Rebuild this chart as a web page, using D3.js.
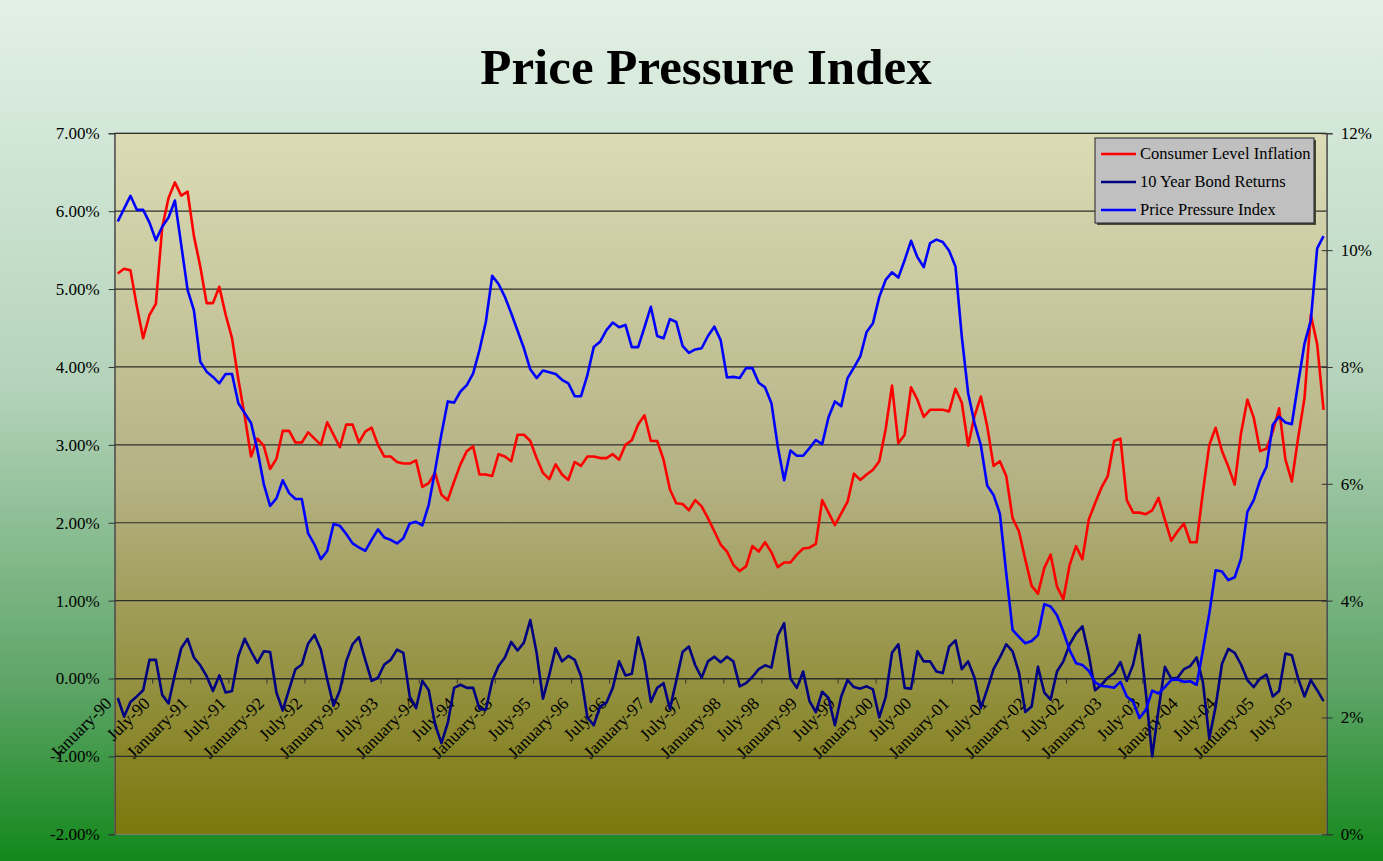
<!DOCTYPE html>
<html>
<head>
<meta charset="utf-8">
<script src="https://cdn.jsdelivr.net/npm/d3@7"></script>
<style>
  body { margin: 0; overflow: hidden; }
  text { font-family: "Liberation Serif", "Times New Roman", serif; }
</style>
</head>
<body>
<script>
// months Jan-1990 .. Nov-2005
const months = d3.timeMonth.range(new Date(1990, 0, 1), new Date(2005, 11, 1))
const categories = months.map(d3.timeFormat("%B-%y"))

// Consumer Level Inflation (%), left axis
const inflation = [
  5.20, 5.26, 5.24, 4.78, 4.37, 4.67, 4.81, 5.79, 6.17, 6.37,
  6.20, 6.25, 5.68, 5.29, 4.82, 4.82, 5.03, 4.67, 4.37, 3.84,
  3.37, 2.85, 3.08, 2.99, 2.69, 2.82, 3.18, 3.18, 3.03, 3.03,
  3.16, 3.08, 3.00, 3.29, 3.13, 2.97, 3.26, 3.26, 3.03, 3.17,
  3.22, 3.00, 2.85, 2.85, 2.78, 2.76, 2.76, 2.80, 2.46, 2.51,
  2.64, 2.36, 2.29, 2.53, 2.75, 2.92, 2.98, 2.62, 2.62, 2.60,
  2.88, 2.85, 2.79, 3.13, 3.13, 3.05, 2.83, 2.64, 2.56, 2.75,
  2.62, 2.55, 2.78, 2.73, 2.85, 2.85, 2.83, 2.83, 2.88, 2.81,
  3.00, 3.06, 3.26, 3.38, 3.05, 3.05, 2.81, 2.43, 2.25, 2.24,
  2.16, 2.29, 2.21, 2.06, 1.89, 1.72, 1.63, 1.46, 1.38, 1.44,
  1.70, 1.63, 1.75, 1.62, 1.43, 1.49, 1.49, 1.59, 1.67, 1.68,
  1.73, 2.29, 2.13, 1.97, 2.12, 2.27, 2.63, 2.55, 2.62, 2.68,
  2.79, 3.20, 3.76, 3.02, 3.13, 3.74, 3.58, 3.36, 3.45, 3.45,
  3.45, 3.43, 3.72, 3.54, 2.99, 3.37, 3.62, 3.24, 2.73, 2.79,
  2.60, 2.06, 1.89, 1.53, 1.19, 1.09, 1.42, 1.59, 1.18, 1.02,
  1.46, 1.70, 1.53, 2.04, 2.25, 2.45, 2.60, 3.05, 3.08, 2.29,
  2.13, 2.13, 2.11, 2.16, 2.32, 2.04, 1.77, 1.89, 1.99, 1.75,
  1.75, 2.40, 3.00, 3.22, 2.92, 2.72, 2.49, 3.15, 3.58, 3.35,
  2.92, 2.95, 3.17, 3.47, 2.81, 2.53, 3.09, 3.60, 4.67, 4.29, 3.45
]

// 10 Year Bond Returns (%), left axis
const bondReturns = [
  -0.25, -0.49, -0.30, -0.23, -0.15, 0.24, 0.24, -0.21, -0.32, 0.05,
  0.39, 0.51, 0.27, 0.17, 0.03, -0.16, 0.04, -0.18, -0.16, 0.29,
  0.51, 0.35, 0.20, 0.35, 0.34, -0.18, -0.41, -0.14, 0.12, 0.18,
  0.45, 0.56, 0.37, -0.01, -0.35, -0.15, 0.22, 0.44, 0.53, 0.24,
  -0.03, 0.01, 0.18, 0.24, 0.37, 0.33, -0.23, -0.38, -0.03, -0.15,
  -0.59, -0.83, -0.57, -0.12, -0.08, -0.12, -0.12, -0.39, -0.40, -0.03,
  0.16, 0.27, 0.47, 0.36, 0.46, 0.75, 0.33, -0.26, 0.05, 0.39,
  0.22, 0.29, 0.24, 0.03, -0.50, -0.60, -0.36, -0.31, -0.12, 0.22,
  0.04, 0.06, 0.53, 0.22, -0.30, -0.12, -0.06, -0.39, -0.03, 0.34,
  0.41, 0.17, 0.01, 0.22, 0.28, 0.21, 0.28, 0.22, -0.10, -0.06,
  0.02, 0.12, 0.17, 0.14, 0.55, 0.71, 0.00, -0.12, 0.09, -0.29,
  -0.43, -0.17, -0.25, -0.60, -0.23, -0.02, -0.11, -0.13, -0.10, -0.14,
  -0.50, -0.24, 0.33, 0.44, -0.12, -0.13, 0.35, 0.22, 0.22, 0.09,
  0.07, 0.41, 0.49, 0.12, 0.22, 0.01, -0.38, -0.14, 0.12, 0.27,
  0.44, 0.35, 0.08, -0.43, -0.36, 0.15, -0.18, -0.27, 0.09, 0.22,
  0.44, 0.58, 0.67, 0.31, -0.15, -0.08, 0.01, 0.07, 0.21, -0.03,
  0.18, 0.56, -0.18, -1.00, -0.40, 0.15, 0.00, 0.01, 0.12, 0.16,
  0.27, -0.05, -0.77, -0.36, 0.19, 0.38, 0.33, 0.18, -0.02, -0.11,
  0.00, 0.05, -0.23, -0.16, 0.32, 0.30, 0.00, -0.23, -0.02, -0.15, -0.29
]

// Price Pressure Index (%), right axis
const pressureIndex = [
  10.49, 10.71, 10.93, 10.69, 10.69, 10.47, 10.17, 10.40, 10.56, 10.85,
  10.09, 9.32, 8.97, 8.09, 7.92, 7.83, 7.72, 7.88, 7.88, 7.38,
  7.21, 7.04, 6.58, 6.00, 5.62, 5.75, 6.06, 5.84, 5.74, 5.74,
  5.15, 4.96, 4.71, 4.85, 5.31, 5.28, 5.14, 4.98, 4.91, 4.85,
  5.04, 5.22, 5.08, 5.04, 4.98, 5.07, 5.32, 5.35, 5.29, 5.64,
  6.23, 6.85, 7.41, 7.39, 7.58, 7.69, 7.89, 8.29, 8.77, 9.56,
  9.42, 9.20, 8.92, 8.62, 8.32, 7.96, 7.81, 7.94, 7.91, 7.88,
  7.78, 7.72, 7.50, 7.50, 7.86, 8.34, 8.43, 8.63, 8.76, 8.68,
  8.72, 8.34, 8.34, 8.68, 9.03, 8.53, 8.49, 8.82, 8.77, 8.36,
  8.24, 8.30, 8.32, 8.53, 8.69, 8.46, 7.82, 7.83, 7.81, 7.98,
  7.98, 7.73, 7.65, 7.38, 6.64, 6.06, 6.57, 6.48, 6.48, 6.61,
  6.75, 6.68, 7.14, 7.41, 7.33, 7.81, 7.99, 8.18, 8.60, 8.75,
  9.20, 9.49, 9.62, 9.53, 9.83, 10.16, 9.88, 9.71, 10.12, 10.18,
  10.14, 9.99, 9.72, 8.52, 7.55, 7.04, 6.66, 5.97, 5.81, 5.49,
  4.47, 3.50, 3.38, 3.27, 3.31, 3.41, 3.94, 3.90, 3.75, 3.47,
  3.15, 2.93, 2.90, 2.80, 2.60, 2.54, 2.53, 2.51, 2.61, 2.36,
  2.27, 1.99, 2.13, 2.46, 2.41, 2.52, 2.64, 2.65, 2.61, 2.62,
  2.56, 3.15, 3.78, 4.52, 4.50, 4.35, 4.40, 4.72, 5.52, 5.72,
  6.06, 6.29, 7.01, 7.15, 7.05, 7.02, 7.72, 8.40, 8.80, 10.03, 10.24
]

const leftTicks = [-2, -1, 0, 1, 2, 3, 4, 5, 6, 7]
const rightTicks = [0, 2, 4, 6, 8, 10, 12]
const seriesNames = ["Consumer Level Inflation", "10 Year Bond Returns", "Price Pressure Index"]
const seriesColors = ["#ff0000", "#000080", "#0000ff"]

const w = 1383
const h = 861
const plot = { left: 114.6, right: 1326.7, top: 133.3, bottom: 834.3 }

const svg = d3.select("body").append("svg")
  .attr("width", w)
  .attr("height", h)

// gradients
const defs = svg.append("defs")
const bg = defs.append("linearGradient").attr("id", "bg")
  .attr("x1", 0).attr("y1", 0).attr("x2", 0).attr("y2", 1)
bg.append("stop").attr("offset", "0%").attr("stop-color", "#e2f1e6")
bg.append("stop").attr("offset", "45%").attr("stop-color", "#b4d3ba")
bg.append("stop").attr("offset", "80%").attr("stop-color", "#5da466")
bg.append("stop").attr("offset", "100%").attr("stop-color", "#13881b")

const pg = defs.append("linearGradient").attr("id", "pg")
  .attr("x1", 0).attr("y1", 0).attr("x2", 0).attr("y2", 1)
pg.append("stop").attr("offset", "0%").attr("stop-color", "#dbdcb6")
pg.append("stop").attr("offset", "50%").attr("stop-color", "#b4b183")
pg.append("stop").attr("offset", "100%").attr("stop-color", "#7b780d")

svg.append("rect")
  .attr("width", w).attr("height", h)
  .attr("fill", "url(#bg)")

svg.append("rect")
  .attr("x", plot.left).attr("y", plot.top)
  .attr("width", plot.right - plot.left).attr("height", plot.bottom - plot.top)
  .attr("fill", "url(#pg)")
  .attr("stroke", "#808080")

// scales
const x = d3.scaleBand().domain(categories).range([plot.left, plot.right])
const cx = c => x(c) + x.bandwidth() / 2
const yL = d3.scaleLinear().domain([-2, 7]).range([plot.bottom, plot.top])
const yR = d3.scaleLinear().domain([0, 12]).range([plot.bottom, plot.top])

// gridlines
svg.append("g")
  .selectAll("line")
  .data(leftTicks.filter(t => t > -2))
  .enter()
  .append("line")
  .attr("x1", plot.left).attr("x2", plot.right)
  .attr("y1", d => yL(d)).attr("y2", d => yL(d))
  .attr("stroke", "#2e2e2a")
  .attr("stroke-width", 1.2)

// axes
const yAxisL = d3.axisLeft(yL)
  .tickValues(leftTicks)
  .tickFormat(d => d.toFixed(2) + "%")
  .tickSize(6)
  .tickPadding(9)
svg.append("g")
  .attr("transform", "translate(" + plot.left + ",0)")
  .call(yAxisL)
  .call(g => g.selectAll("text").style("font-size", "17px").attr("fill", "#000"))
  .call(g => g.selectAll("line, path").attr("stroke", "#333"))

const yAxisR = d3.axisRight(yR)
  .tickValues(rightTicks)
  .tickFormat(d => d + "%")
  .tickSize(6)
  .tickPadding(8)
svg.append("g")
  .attr("transform", "translate(" + plot.right + ",0)")
  .call(yAxisR)
  .call(g => g.selectAll("text").style("font-size", "17px").attr("fill", "#000"))
  .call(g => g.selectAll("line, path").attr("stroke", "#333"))
  .call(g => g.selectAll(".tick line").attr("x1", -5))

const labelCats = categories.filter(c => c.startsWith("January") || c.startsWith("July"))
const xAxis = d3.axisBottom(x)
  .tickValues(labelCats)
  .tickSize(5)
  .tickSizeOuter(0)
svg.append("g")
  .attr("transform", "translate(0," + yL(0) + ")")
  .call(xAxis)
  .call(g => g.select(".domain").attr("stroke", "#2e2e2a"))
  .call(g => g.selectAll(".tick line")
    .attr("stroke", "#333")
    .attr("x1", -x.bandwidth() / 2).attr("x2", -x.bandwidth() / 2)
    .style("display", (d, i) => i == 0 ? "none" : null))
  .call(g => g.selectAll(".tick text")
    .style("font-size", "17.5px")
    .attr("fill", "#000")
    .attr("text-anchor", "end")
    .attr("x", 0).attr("y", 0).attr("dy", 0)
    .attr("transform", "translate(-5,26) rotate(-45)"))

// lines
const series = [inflation, bondReturns, pressureIndex]
const scales = [yL, yL, yR]
series.forEach((s, k) => {
  const line = d3.line()
    .x((d, i) => cx(categories[i]))
    .y(d => scales[k](d))
  svg.append("path")
    .datum(s)
    .attr("d", line)
    .attr("fill", "none")
    .attr("stroke", seriesColors[k])
    .attr("stroke-width", 2.6)
    .attr("stroke-linejoin", "round")
})

// title
svg.append("text")
  .attr("x", 706)
  .attr("y", 84)
  .attr("text-anchor", "middle")
  .style("font-size", "51px")
  .style("font-weight", "bold")
  .text("Price Pressure Index")

// legend
const lg = svg.append("g").attr("transform", "translate(1095,138)")
lg.append("rect")
  .attr("x", 2).attr("y", 2).attr("width", 219).attr("height", 85)
  .attr("fill", "#4a4a3a")
lg.append("rect")
  .attr("width", 219).attr("height", 85)
  .attr("fill", "#c0c0c0")
  .attr("stroke", "#222")
const items = lg.selectAll(".item")
  .data(seriesNames)
  .enter()
  .append("g")
  .attr("transform", (d, i) => "translate(0," + (16 + i * 28) + ")")
items.append("line")
  .attr("x1", 6).attr("x2", 41)
  .attr("stroke", (d, i) => seriesColors[i])
  .attr("stroke-width", 2.6)
items.append("text")
  .attr("x", 45)
  .attr("dy", "0.33em")
  .style("font-size", "16.5px")
  .text(d => d)
</script>
</body>
</html>
